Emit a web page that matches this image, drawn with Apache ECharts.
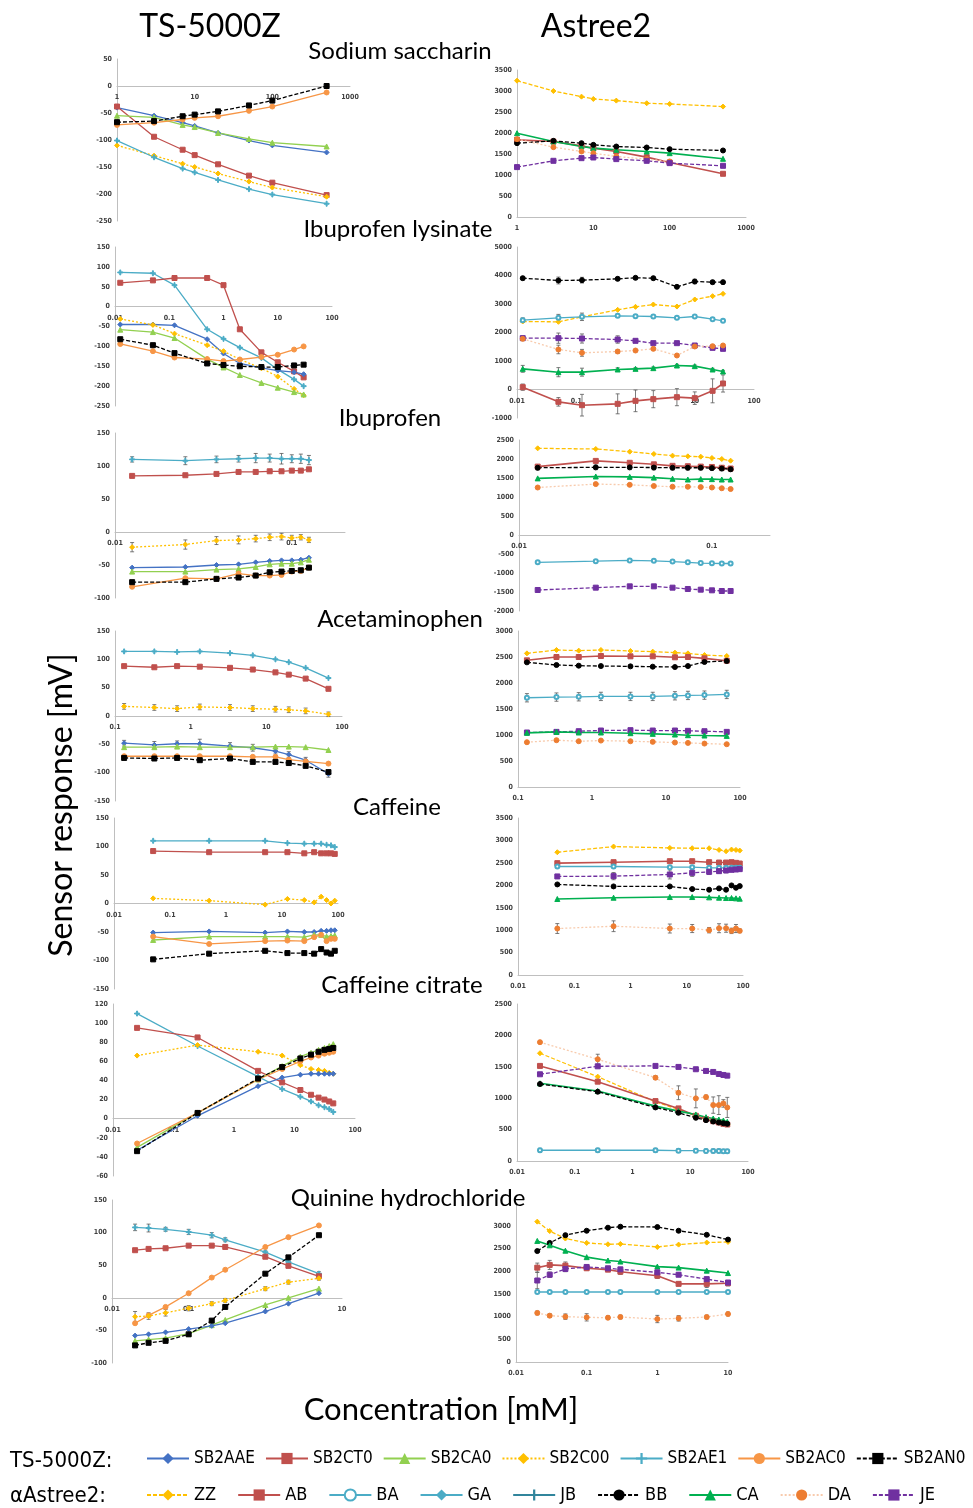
<!DOCTYPE html>
<html>
<head>
<meta charset="utf-8">
<script src="https://cdn.jsdelivr.net/npm/echarts@6/dist/echarts.min.js"></script>
<style>
  html, body { margin: 0; background: #fff; }
  #chart { width: 973px; height: 1508px; }
</style>
</head>
<body>
<div id="chart"></div>
<script>
// ---- data (concentration in mM, response in mV) ----
const xSaccharin = [1, 3, 7, 10, 20, 50, 100, 500]
const tsSaccharin = {
  SB2AAE: [-40, -55, -68, -74, -87, -101, -110, -123],
  SB2CT0: [-38, -94, -118, -128, -145, -166, -179, -202],
  SB2CA0: [-55, -58, -72, -76, -87, -98, -105, -112],
  SB2C00: [-110, -129, -144, -150, -162, -177, -188, -205],
  SB2AE1: [-101, -132, -153, -160, -174, -191, -201, -218],
  SB2AC0: [-72, -68, -62, -59, -56, -46, -38, -12],
  SB2AN0: [-67, -65, -56, -53, -47, -36, -27, 0]
}
const asSaccharin = {
  ZZ: [3246, 3000, 2866, 2811, 2771, 2708, 2692, 2629],
  AB: [1837, 1797, 1694, 1639, 1560, 1425, 1298, 1029],
  CA: [1995, 1797, 1678, 1639, 1600, 1560, 1520, 1386],
  BB: [1758, 1813, 1758, 1718, 1678, 1655, 1615, 1584],
  DA: [1853, 1663, 1560, 1520, 1441, 1378, 1322],
  JE: [1188, 1338, 1401, 1417, 1378, 1338, 1283, 1219]
}

const xIbuLys = [0.0125, 0.05, 0.125, 0.5, 1, 2, 5, 10, 20, 30]
const tsIbuLys = {
  SB2AE1: [86, 84, 54, -57, -81, -103, -129, -158, -183, -200],
  SB2CT0: [60, 66, 72, 72, 54, -57, -115, -140, -163, -178],
  SB2AAE: [-45, -45, -47, -82, -118, -143, -154, -161, -165, -170],
  SB2C00: [-31, -46, -68, -97, -112, -133, -155, -176, -207, -223],
  SB2CA0: [-58, -64, -79, -132, -153, -172, -192, -204, -215, -221],
  SB2AC0: [-94, -112, -128, -132, -137, -133, -127, -121, -108, -100],
  SB2AN0: [-82, -97, -117, -143, -147, -150, -152, -152, -148, -146]
}
const asIbuLys = {
  BB: [3906, 3825, 3836, 3883, 3918, 3906, 3602, 3789, 3766, 3766],
  ZZ: [2386, 2374, 2550, 2795, 2900, 2982, 2912, 3158, 3275, 3357],
  BA: [2433, 2515, 2550, 2585, 2573, 2561, 2515, 2561, 2468, 2409],
  JE: [1801, 1801, 1789, 1754, 1708, 1626, 1626, 1544, 1462, 1427],
  DA: [1778, 1404, 1287, 1333, 1368, 1427, 1193, 1509, 1520, 1544],
  CA: [725, 608, 608, 702, 725, 749, 842, 819, 702, 632],
  AB: [82, -433, -550, -503, -398, -339, -269, -304, -47, 211]
}

const xIbu = [0.0125, 0.025, 0.0375, 0.05, 0.0625, 0.075, 0.0875, 0.1, 0.1125, 0.125]
const tsIbu = {
  SB2AE1: [110, 108, 110, 111, 112, 112, 111, 111, 111, 109],
  SB2CT0: [85, 86, 88, 91, 91, 92, 92, 93, 93, 95],
  SB2C00: [-23, -19, -13, -12, -10, -8, -7, -9, -8, -12],
  SB2AAE: [-54, -53, -50, -49, -46, -44, -43, -43, -42, -39],
  SB2CA0: [-60, -60, -57, -56, -53, -49, -48, -48, -46, -42],
  SB2AC0: [-83, -70, -71, -63, -66, -66, -65, -60, -59, -54],
  SB2AN0: [-76, -76, -71, -69, -66, -61, -60, -59, -58, -54]
}
const asIbu = {
  ZZ: [2281, 2263, 2193, 2132, 2088, 2070, 2061, 2026, 2000, 1956],
  AB: [1800, 1950, 1900, 1860, 1820, 1810, 1800, 1790, 1770, 1750],
  BB: [1770, 1780, 1780, 1775, 1770, 1770, 1770, 1760, 1750, 1730],
  CA: [1490, 1540, 1530, 1510, 1480, 1460, 1470, 1470, 1460, 1460],
  DA: [1250, 1340, 1320, 1290, 1270, 1270, 1260, 1250, 1230, 1210],
  BA: [-720, -690, -670, -680, -700, -720, -740, -745, -750, -750],
  JE: [-1447, -1386, -1351, -1351, -1386, -1421, -1439, -1456, -1474, -1474]
}

const xAcet = [0.132, 0.331, 0.662, 1.32, 3.31, 6.62, 13.2, 19.8, 33.1, 66.2]
const tsAcet = {
  SB2AE1: [114, 114, 113, 114, 111, 107, 100, 95, 85, 67],
  SB2CT0: [88, 86, 88, 87, 85, 82, 77, 73, 66, 48],
  SB2C00: [17, 15, 13, 16, 15, 13, 12, 11, 9, 3],
  SB2AAE: [-48, -51, -49, -49, -53, -56, -62, -68, -78, -102],
  SB2CA0: [-55, -55, -54, -55, -55, -55, -54, -54, -55, -60],
  SB2AC0: [-71, -71, -71, -71, -71, -72, -72, -77, -80, -84],
  SB2AN0: [-74, -75, -74, -78, -75, -81, -81, -83, -88, -99]
}
const asAcet = {
  ZZ: [2570, 2635, 2622, 2635, 2616, 2603, 2584, 2570, 2538, 2519],
  AB: [2436, 2500, 2500, 2519, 2513, 2513, 2494, 2500, 2474, 2429],
  BB: [2397, 2346, 2333, 2326, 2320, 2314, 2307, 2326, 2404, 2423],
  BA: [1716, 1729, 1735, 1742, 1742, 1742, 1754, 1761, 1767, 1780],
  JE: [1048, 1060, 1073, 1086, 1093, 1086, 1086, 1080, 1073, 1060],
  CA: [1041, 1060, 1048, 1048, 1035, 1022, 1009, 996, 990, 983],
  DA: [861, 900, 880, 893, 880, 868, 855, 848, 835, 823]
}

const xCaff = [0.05, 0.5, 5, 12.5, 25, 37.5, 50, 62.5, 75, 87.5]
const tsCaff = {
  SB2AE1: [110, 110, 110, 106, 105, 105, 105, 103, 102, 99],
  SB2CT0: [92, 90, 90, 90, 88, 90, 88, 88, 88, 87],
  SB2C00: [9, 5, -2, 8, 6, 2, 12, 6, 0, 5],
  SB2AAE: [-51, -49, -51, -49, -50, -50, -48, -48, -47, -47],
  SB2CA0: [-64, -58, -58, -58, -59, -55, -55, -58, -57, -56],
  SB2AC0: [-58, -71, -66, -65, -66, -59, -55, -66, -62, -62],
  SB2AN0: [-98, -88, -83, -87, -87, -88, -80, -86, -88, -83]
}
const asCaff = {
  ZZ: [2737, 2863, 2833, 2826, 2826, 2789, 2759, 2796, 2789, 2774],
  AB: [2493, 2515, 2537, 2537, 2515, 2507, 2507, 2515, 2500, 2485],
  BA: [2419, 2419, 2404, 2404, 2389, 2389, 2389, 2389, 2389, 2389],
  JE: [2197, 2204, 2241, 2278, 2300, 2315, 2330, 2345, 2352, 2360],
  BB: [2019, 1975, 1975, 1916, 1901, 1931, 1901, 1997, 1945, 1982],
  CA: [1694, 1723, 1738, 1738, 1731, 1723, 1716, 1716, 1709, 1701],
  DA: [1036, 1087, 1036, 1036, 999, 1043, 1043, 984, 1036, 984]
}

const xCitr = [0.025, 0.25, 2.5, 6.25, 12.5, 18.75, 25, 31.25, 37.5, 43.75]
const tsCitr = {
  SB2AE1: [110, 76, 44, 31, 23, 18, 14, 12, 10, 7],
  SB2CT0: [95, 85, 50, 38, 30, 25, 22, 20, 18, 16],
  SB2C00: [66, 77, 70, 66, 56, 52, 51, 50, 48, 47],
  SB2AAE: [-33, 3, 34, 43, 46, 47, 47, 47, 47, 47],
  SB2CA0: [-30, 6, 41, 55, 65, 69, 72, 74, 76, 78],
  SB2AC0: [-26, 6, 41, 52, 60, 64, 66, 68, 69, 70],
  SB2AN0: [-34, 6, 42, 54, 63, 67, 70, 72, 73, 74]
}
const asCitr = {
  DA: [1892, 1620, 1327, 1087, 997, 1018, 890, 890, 917, 853],
  ZZ: [1716, 1343, 943, 821, 720, 666, 634, 613, 597, 581],
  AB: [1514, 1263, 954, 837, 720, 666, 634, 613, 592, 581],
  JE: [1381, 1508, 1514, 1498, 1461, 1434, 1418, 1386, 1370, 1359],
  CA: [1237, 1114, 874, 794, 741, 698, 677, 661, 645, 624],
  BB: [1226, 1103, 853, 768, 688, 650, 629, 613, 602, 592],
  BA: [171, 171, 171, 165, 165, 160, 160, 160, 155, 155]
}

const xQuinTs = [0.02, 0.03, 0.05, 0.1, 0.2, 0.3, 1, 2, 5]
const tsQuin = {
  SB2AE1: [108, 107, 105, 101, 96, 89, 70, 55, 37],
  SB2CT0: [73, 75, 76, 80, 80, 78, 63, 49, 33],
  SB2AC0: [-39, -27, -14, 7, 31, 43, 78, 93, 111],
  SB2C00: [-29, -28, -23, -16, -9, -4, 14, 24, 30],
  SB2CA0: [-66, -64, -62, -55, -42, -34, -11, 0, 14],
  SB2AAE: [-58, -56, -53, -48, -43, -39, -21, -9, 7],
  SB2AN0: [-73, -69, -66, -56, -35, -14, 37, 62, 96]
}
const xQuinAs = [0.02, 0.03, 0.05, 0.1, 0.2, 0.3, 1, 2, 5, 10]
const asQuin = {
  ZZ: [3090, 2882, 2718, 2621, 2591, 2599, 2532, 2584, 2629, 2643],
  BB: [2442, 2621, 2792, 2889, 2956, 2978, 2971, 2889, 2800, 2695],
  CA: [2665, 2569, 2450, 2308, 2234, 2211, 2100, 2078, 2011, 1958],
  AB: [2077, 2137, 2122, 2063, 2033, 1988, 1899, 1720, 1720, 1735],
  JE: [1794, 1921, 2048, 2092, 2063, 2040, 1973, 1921, 1824, 1750],
  BA: [1541, 1541, 1541, 1541, 1541, 1541, 1541, 1541, 1541, 1541],
  DA: [1080, 1020, 998, 983, 975, 990, 946, 961, 990, 1057]
}

// standard deviations (same units), only where the bars are visible
const errIbuLysAB = [110, 150, 380, 350, 380, 300, 300, 220, 420, 300]
const errIbuLysBB = [60, 120, 100, 60, 40, 40, 40, 80, 60, 60]
const errIbuLysJE = [80, 180, 160, 130, 60, 40, 40, 40, 40, 40]
const errIbuLysDA = [60, 150, 120, 60, 40, 40, 40, 40, 40, 40]
const errIbuLysCA = [120, 160, 140, 60, 40, 40, 40, 40, 40, 40]
const errIbuLysBA = [80, 120, 130, 60, 40, 40, 40, 40, 40, 40]
const errIbuTsAE1 = [4, 6, 5, 5, 7, 6, 8, 6, 7, 7]
const errIbuTsC00 = [7, 7, 6, 6, 5, 5, 5, 4, 4, 4]
const errIbuBB = [60, 60, 60, 60, 60, 60, 60, 60, 60, 60]
const errAcetTsAAE = [5, 6, 5, 8, 6, 6, 5, 5, 5, 6]
const errAcetTsC00 = [5, 5, 5, 5, 5, 5, 5, 5, 5, 4]
const errAcetBA = [80, 80, 80, 80, 80, 80, 80, 80, 80, 80]
const errCaffDA = [110, 120, 100, 90, 60, 100, 90, 60, 90, 40]
const errCaffJE = [40, 80, 100, 80, 60, 50, 50, 40, 40, 40]
const errCitrDA = [20, 80, 30, 110, 150, 30, 130, 150, 60, 160]
const errCitrBA = [30, 30, 30, 30, 30, 30, 30, 30, 30, 30]
const errQuinTsAE1 = [5, 6, 3, 4, 4, 3, 3, 3, 3]
const errQuinTsC00 = [8, 5, 5, 4, 3, 3, 3, 3, 3]
const errQuinAB = [100, 100, 80, 40, 40, 60, 60, 40, 80, 60]
const errQuinJE = [180, 60, 60, 40, 40, 40, 40, 40, 40, 40]
const errQuinDA = [40, 40, 60, 80, 40, 40, 80, 60, 40, 40]

const compounds = ['Sodium saccharin', 'Ibuprofen lysinate', 'Ibuprofen', 'Acetaminophen',
  'Caffeine', 'Caffeine citrate', 'Quinine hydrochloride']
const tsNames = ['SB2AAE', 'SB2CT0', 'SB2CA0', 'SB2C00', 'SB2AE1', 'SB2AC0', 'SB2AN0']
const asNames = ['ZZ', 'AB', 'BA', 'GA', 'JB', 'BB', 'CA', 'DA', 'JE']

// ---- styling ----
const PLUS = 'path://M4,0h2v4h4v2h-4v4h-2v-4h-4v-2h4z'
const styles = {
  SB2AAE: { color: '#4472C4', symbol: 'diamond' },
  SB2CT0: { color: '#C0504D', symbol: 'rect' },
  SB2CA0: { color: '#92D050', symbol: 'triangle' },
  SB2C00: { color: '#FFC000', symbol: 'diamond', dash: [2, 2] },
  SB2AE1: { color: '#4BACC6', symbol: PLUS },
  SB2AC0: { color: '#F79646', symbol: 'circle' },
  SB2AN0: { color: '#000000', symbol: 'rect', dash: [4, 2] },
  ZZ: { color: '#FFC000', symbol: 'diamond', dash: [4, 2] },
  AB: { color: '#C0504D', symbol: 'rect', width: 1.6 },
  BA: { color: '#4BACC6', symbol: 'emptyCircle', size: 4 },
  GA: { color: '#4BACC6', symbol: 'diamond' },
  JB: { color: '#31859C', symbol: PLUS },
  BB: { color: '#000000', symbol: 'circle', dash: [4, 2] },
  CA: { color: '#00B050', symbol: 'triangle', width: 1.6 },
  DA: { color: '#ED7D31', line: '#F8CBAD', symbol: 'circle', dash: [2, 2] },
  JE: { color: '#7030A0', symbol: 'rect', dash: [4, 2] }
}

// panel frames: [left, top, width, height, xMin, xMax, yMin, yMax, yStep]
const frames = [
  [117, 59, 233, 162, 1, 1000, -250, 50, 50],
  [517, 70, 229, 147, 1, 1000, 0, 3500, 500],
  [115, 247, 217, 159, 0.01, 100, -250, 150, 50],
  [517, 247, 237, 171, 0.01, 100, -1000, 5000, 1000],
  [115, 433, 230, 165, 0.01, 0.2, -100, 150, 50],
  [519, 440, 251, 171, 0.01, 0.2, -2000, 2500, 500],
  [115, 631, 227, 170, 0.1, 100, -150, 150, 50],
  [518, 631, 222, 156, 0.1, 100, 0, 3000, 500],
  [114, 818, 224, 171, 0.01, 100, -150, 150, 50],
  [518, 818, 225, 157, 0.01, 100, 0, 3500, 500],
  [113, 1004, 242, 172, 0.01, 100, -60, 120, 20],
  [517, 1004, 231, 157, 0.01, 100, 0, 2500, 500],
  [112, 1200, 230, 163, 0.01, 10, -100, 150, 50],
  [516, 1203, 212, 159, 0.01, 10, 0, 3500, 500]
]
const panelData = [
  [xSaccharin, tsSaccharin], [xSaccharin, asSaccharin],
  [xIbuLys, tsIbuLys], [xIbuLys, asIbuLys],
  [xIbu, tsIbu], [xIbu, asIbu],
  [xAcet, tsAcet], [xAcet, asAcet],
  [xCaff, tsCaff], [xCaff, asCaff],
  [xCitr, tsCitr], [xCitr, asCitr],
  [xQuinTs, tsQuin], [xQuinAs, asQuin]
]
// [panel, series, errors]
const errorBars = [
  [3, 'AB', errIbuLysAB], [3, 'BB', errIbuLysBB], [3, 'JE', errIbuLysJE],
  [3, 'DA', errIbuLysDA], [3, 'CA', errIbuLysCA], [3, 'BA', errIbuLysBA],
  [4, 'SB2AE1', errIbuTsAE1], [4, 'SB2C00', errIbuTsC00], [5, 'BB', errIbuBB],
  [6, 'SB2AAE', errAcetTsAAE], [6, 'SB2C00', errAcetTsC00], [7, 'BA', errAcetBA],
  [9, 'DA', errCaffDA], [9, 'JE', errCaffJE],
  [11, 'DA', errCitrDA], [11, 'BA', errCitrBA],
  [12, 'SB2AE1', errQuinTsAE1], [12, 'SB2C00', errQuinTsC00],
  [13, 'AB', errQuinAB], [13, 'JE', errQuinJE], [13, 'DA', errQuinDA]
]
const subtitlePos = [[400, 51], [398, 229], [390, 418], [400, 619], [397, 807], [402, 985], [408, 1198]]

const tickFont = { fontSize: 7, fontWeight: 'bold', color: '#404040', fontFamily: 'DejaVu Sans Condensed, DejaVu Sans' }

const isDecade = v => Math.abs(Math.log10(v) - Math.round(Math.log10(v))) < 1e-6

const grid = [], xAxis = [], yAxis = [], series = []

frames.forEach((f, i) => {
  grid.push({ left: f[0], top: f[1], width: f[2], height: f[3] })
  // the concentration axis crosses at 0 mV, labels travel with it
  const zeroShift = f[6] < 0 ? f[3] * (0 - f[6]) / (f[7] - f[6]) : 0
  xAxis.push({
    type: 'log', gridIndex: i, min: f[4], max: f[5], logBase: 10,
    position: 'bottom', offset: -zeroShift,
    axisLine: { onZero: false, lineStyle: { color: '#bfbfbf', width: 1 } },
    axisTick: { show: false },
    splitLine: { show: false },
    axisLabel: {
      ...tickFont, margin: 8,
      formatter: v => isDecade(v) ? String(+v.toPrecision(3)) : ''
    }
  })
  yAxis.push({
    type: 'value', gridIndex: i, min: f[6], max: f[7], interval: f[8],
    axisLine: { show: true, onZero: false, lineStyle: { color: '#bfbfbf', width: 1 } },
    axisTick: { show: false },
    splitLine: { show: false },
    axisLabel: { ...tickFont, margin: 5, showMaxLabel: i !== 13, formatter: v => String(v) }
  })
})

const makeSeries = (name, idx, xs, ys) => {
  const s = styles[name]
  return {
    name, type: 'line', xAxisIndex: idx, yAxisIndex: idx,
    data: xs.slice(0, ys.length).map((x, k) => [x, ys[k]]),
    symbol: s.symbol, symbolSize: s.size || 5,
    showSymbol: true, clip: false, animation: false, z: 3,
    lineStyle: { color: s.line || s.color, width: s.width || 1.3, type: s.dash || 'solid' },
    itemStyle: { color: s.color, borderColor: s.color },
    emphasis: { disabled: true }
  }
}

const renderError = (params, api) => {
  const lo = api.coord([api.value(0), api.value(1)])
  const hi = api.coord([api.value(0), api.value(2)])
  const st = { stroke: '#595959', lineWidth: 0.8 }
  return {
    type: 'group',
    children: [
      { type: 'line', shape: { x1: lo[0], y1: lo[1], x2: hi[0], y2: hi[1] }, style: st },
      { type: 'line', shape: { x1: lo[0] - 2, y1: lo[1], x2: lo[0] + 2, y2: lo[1] }, style: st },
      { type: 'line', shape: { x1: hi[0] - 2, y1: hi[1], x2: hi[0] + 2, y2: hi[1] }, style: st }
    ]
  }
}

panelData.forEach(([xs, set], i) => {
  Object.keys(set).forEach(name => series.push(makeSeries(name, i, xs, set[name])))
})
errorBars.forEach(([i, name, err]) => {
  const [xs, set] = panelData[i]
  const ys = set[name]
  series.push({
    type: 'custom', xAxisIndex: i, yAxisIndex: i, z: 2, silent: true, clip: false,
    encode: { x: 0, y: [1, 2] },
    data: err.map((e, k) => [xs[k], ys[k] - e, ys[k] + e]),
    renderItem: renderError
  })
})
// legend-only entries not drawn in any panel
series.push(makeSeries('GA', 1, [], []))
series.push(makeSeries('JB', 1, [], []))

const bigFont = 'Lato, "Open Sans", sans-serif'
const narrow = '"DejaVu Sans Condensed", sans-serif'
const graphic = [
  { type: 'text', x: 210, y: 27, style: { text: 'TS-5000Z', font: '32px ' + bigFont, fill: '#000', textAlign: 'center', textVerticalAlign: 'middle' } },
  { type: 'text', x: 596, y: 27, style: { text: 'Astree2', font: '32px ' + bigFont, fill: '#000', textAlign: 'center', textVerticalAlign: 'middle' } },
  { type: 'text', x: 62, y: 805, rotation: Math.PI / 2, style: { text: 'Sensor response [mV]', font: '32px ' + bigFont, fill: '#000', textAlign: 'center', textVerticalAlign: 'middle' } },
  { type: 'text', x: 441, y: 1410, style: { text: 'Concentration [mM]', font: '31px ' + bigFont, fill: '#000', textAlign: 'center', textVerticalAlign: 'middle' } },
  { type: 'text', x: 10, y: 1461, style: { text: 'TS-5000Z:', font: '22px ' + narrow, fill: '#000', textVerticalAlign: 'middle' } },
  { type: 'text', x: 10, y: 1496, style: { text: 'αAstree2:', font: '22px ' + narrow, fill: '#000', textVerticalAlign: 'middle' } }
]
compounds.forEach((c, i) => {
  graphic.push({ type: 'text', x: subtitlePos[i][0], y: subtitlePos[i][1], z: 100,
    style: { text: c, font: '24px ' + bigFont, fill: '#000', textAlign: 'center', textVerticalAlign: 'middle' } })
})

const chart = echarts.init(document.getElementById('chart'))
chart.setOption({
  backgroundColor: '#fff',
  animation: false,
  grid, xAxis, yAxis, series, graphic,
  legend: [
    { data: tsNames, left: 146, top: 1450, width: 830, padding: 0, itemWidth: 42, itemHeight: 14, itemGap: 10,
      selectedMode: false, textStyle: { fontSize: 17, color: '#000', fontFamily: narrow } },
    { data: asNames, left: 146, top: 1486, width: 830, padding: 0, itemWidth: 42, itemHeight: 14, itemGap: 21,
      selectedMode: false, textStyle: { fontSize: 18, color: '#000', fontFamily: narrow } }
  ]
})
</script>
</body>
</html>
